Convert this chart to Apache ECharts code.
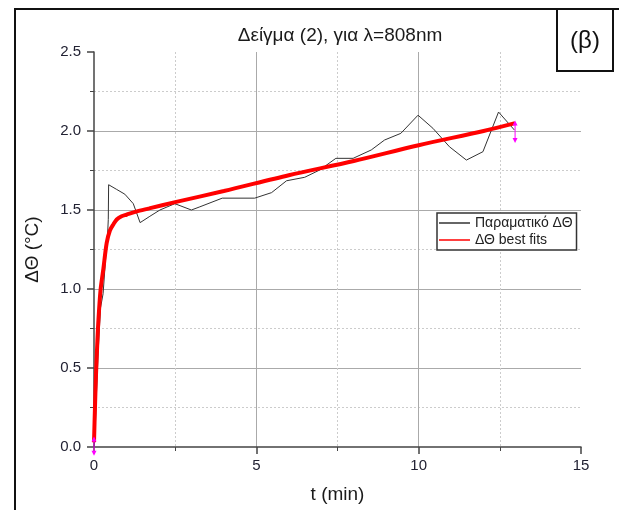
<!DOCTYPE html>
<html>
<head>
<meta charset="utf-8">
<script src="https://cdn.jsdelivr.net/npm/echarts@6/dist/echarts.min.js"></script>
<style>
  html, body { margin: 0; padding: 0; background: #fff; }
  #chart { width: 619px; height: 510px; }
</style>
</head>
<body>
<div id="chart"></div>
<script>
// Πειραματικά δεδομένα (t σε min, ΔΘ σε °C)
const measT = [0, 0.03, 0.08, 0.13, 0.2, 0.28, 0.36, 0.42, 0.44, 0.45, 0.7, 0.95, 1.21, 1.42, 1.72, 2.03, 2.49, 3.0, 3.26,
  3.95, 4.95, 5.47, 5.93, 6.49, 6.95, 7.45, 7.98, 8.54, 8.95, 9.45, 9.98, 10.44, 10.95, 11.47, 11.98, 12.46, 12.95];
const measV = [0, 0.07, 0.36, 0.61, 0.88, 0.97, 1.2, 1.35, 1.44, 1.66, 1.63, 1.6, 1.54, 1.42, 1.46, 1.5, 1.54, 1.5, 1.52,
  1.575, 1.575, 1.61, 1.685, 1.707, 1.753, 1.827, 1.827, 1.88, 1.943, 1.985, 2.1, 2.017, 1.9, 1.816, 1.869, 2.12, 2.006];

// Καμπύλη προσαρμογής (ΔΘ best fits)
const fitT = [0, 0.03, 0.06, 0.1, 0.13, 0.2, 0.29, 0.39, 0.49, 0.6, 0.7, 0.85, 1.0, 1.3, 1.7, 2.5, 4, 6, 8, 10, 12, 12.97];
const fitV = [0.03, 0.25, 0.45, 0.65, 0.78, 0.99, 1.13, 1.29, 1.37, 1.41, 1.44, 1.46, 1.47, 1.49, 1.51, 1.55, 1.62, 1.72, 1.81, 1.91, 2.0, 2.05];

// Ματζέντα δείκτες στα άκρα
const markStart = [[0, 0.05], [0, -0.04]];
const markEnd = [[12.97, 2.05], [12.97, 1.94]];

const xTicks = [0, 5, 10, 15];
const yTicks = [0, 0.5, 1.0, 1.5, 2.0, 2.5];

const zip = (a, b) => a.map((v, i) => [v, b[i]]);
const arrows = (pts) => pts.map((p, i) => ({ value: p, symbolRotate: i === 0 ? 0 : 180 }));

const chart = echarts.init(document.getElementById('chart'));
const font = 'Liberation Sans, Arial, sans-serif';

chart.setOption({
  backgroundColor: '#fff',
  animation: false,
  textStyle: { fontFamily: font },
  title: {
    text: 'Δείγμα (2), για λ=808nm',
    left: 335, top: 21, textAlign: 'center',
    textStyle: { fontSize: 19, fontWeight: 'normal', color: '#1a1a1a', fontFamily: font }
  },
  graphic: [
    { type: 'rect', shape: { x: 15, y: 9, width: 640, height: 540 }, style: { fill: 'none', stroke: '#111', lineWidth: 2 } },
    { type: 'rect', shape: { x: 557, y: 9, width: 56, height: 62 }, style: { fill: '#fff', stroke: '#111', lineWidth: 2 } },
    { type: 'text', x: 585, y: 41, style: { text: '(β)', fontSize: 24, fill: '#111', align: 'center', verticalAlign: 'middle', fontFamily: font } }
  ],
  legend: {
    orient: 'vertical',
    left: 437, top: 213,
    icon: 'rect',
    itemWidth: 31, itemHeight: 1.5, itemGap: 3,
    padding: [3, 4, 3, 2],
    borderColor: '#333', borderWidth: 1.5, borderRadius: 0,
    backgroundColor: '#fff',
    textStyle: { fontSize: 14, color: '#222', fontFamily: font },
    data: ['Παραματικό ΔΘ', 'ΔΘ best fits']
  },
  grid: { left: 94, right: 38, top: 52, bottom: 63 },
  xAxis: {
    type: 'value', min: 0, max: 15, interval: 5,
    name: 't (min)', nameLocation: 'middle', nameGap: 38,
    nameTextStyle: { fontSize: 19, color: '#1a1a1a' },
    axisLine: { show: true, lineStyle: { color: '#444', width: 1.5 } },
    axisTick: { show: true, length: 7, lineStyle: { color: '#444', width: 1.5 } },
    minorTick: { show: true, splitNumber: 2, length: 4, lineStyle: { color: '#444' } },
    axisLabel: { fontSize: 15, color: '#223', margin: 11, formatter: (v) => (xTicks.includes(v) ? String(v) : '') },
    splitLine: { show: true, showMinLine: false, showMaxLine: false, lineStyle: { color: '#aaa', width: 1 } },
    minorSplitLine: { show: true, lineStyle: { color: '#ccc', type: [2, 2] } }
  },
  yAxis: {
    type: 'value', min: 0, max: 2.5, interval: 0.5,
    name: 'ΔΘ (°C)', nameLocation: 'middle', nameGap: 52,
    nameTextStyle: { fontSize: 19, color: '#1a1a1a' },
    axisLine: { show: true, lineStyle: { color: '#444', width: 1.5 } },
    axisTick: { show: true, length: 7, lineStyle: { color: '#444', width: 1.5 } },
    minorTick: { show: true, splitNumber: 2, length: 4, lineStyle: { color: '#444' } },
    axisLabel: { fontSize: 15, color: '#223', margin: 13, formatter: (v) => (yTicks.includes(v) ? v.toFixed(1) : '') },
    splitLine: { show: true, showMinLine: false, showMaxLine: false, lineStyle: { color: '#aaa', width: 1 } },
    minorSplitLine: { show: true, lineStyle: { color: '#ccc', type: [2, 2] } }
  },
  series: [
    {
      name: 'Παραματικό ΔΘ', type: 'line', data: zip(measT, measV),
      symbol: 'none', color: '#333',
      lineStyle: { color: '#333', width: 1 }, z: 3
    },
    {
      name: 'ΔΘ best fits', type: 'line', data: zip(fitT, fitV),
      symbol: 'none', smooth: 0.3, color: '#ff0000',
      lineStyle: { color: '#ff0000', width: 4 }, z: 4
    },
    {
      type: 'line', data: arrows(markStart), clip: false,
      symbol: 'triangle', symbolSize: 5, color: '#ff00ff',
      lineStyle: { color: '#ff00ff', width: 1 }, itemStyle: { color: '#ff00ff' }, z: 5
    },
    {
      type: 'line', data: arrows(markEnd), clip: false,
      symbol: 'triangle', symbolSize: 5, color: '#ff00ff',
      lineStyle: { color: '#ff00ff', width: 1 }, itemStyle: { color: '#ff00ff' }, z: 5
    }
  ]
});
</script>
</body>
</html>
